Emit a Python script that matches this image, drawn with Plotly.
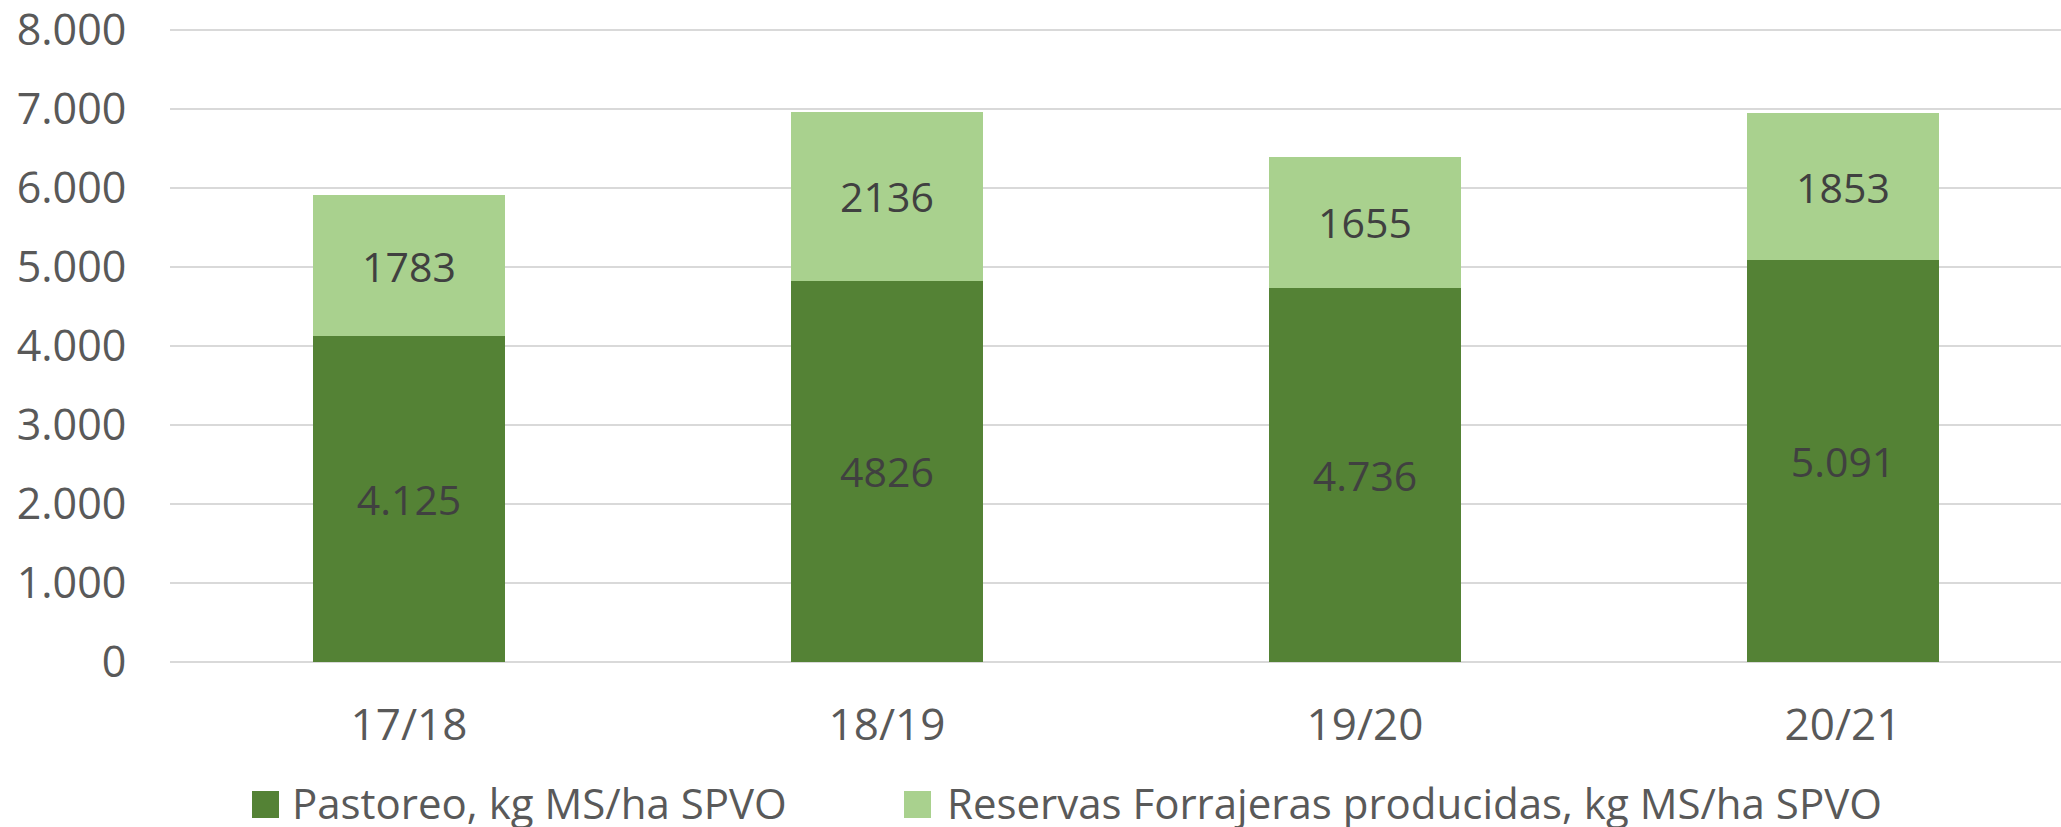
import plotly.graph_objects as go

# ---- data ----
seasons = ["17/18", "18/19", "19/20", "20/21"]
pastoreo = [4125, 4826, 4736, 5091]
pastoreo_labels = ["4.125", "4826", "4.736", "5.091"]
reservas = [1783, 2136, 1655, 1853]
reservas_labels = ["1783", "2136", "1655", "1853"]
series_names = ["Pastoreo, kg MS/ha SPVO", "Reservas Forrajeras producidas, kg MS/ha SPVO"]
y_ticks = [0, 1000, 2000, 3000, 4000, 5000, 6000, 7000, 8000]

# ---- style ----
DARK = "#548235"
LIGHT = "#a9d18e"
LABEL_COLOR = "#404040"
TICK_COLOR = "#595959"
GRID = "#d9d9d9"
FONT = "Open Sans"
FS_LABEL = 41
FS_TICK = 43
FS_LEGEND = 42

W, H = 2061, 827
L, R, T, B = 170, 0, 22, 165
pw = W - L - R
ph = H - T - B

px_per_unit = 79.0 / 1000.0   # vertical scale of the original
y_top = ph / px_per_unit      # a little headroom above 8.000 so its gridline/label show

xpos = list(range(len(seasons)))

fig = go.Figure()
fig.add_trace(go.Bar(
    x=xpos, y=pastoreo, name=series_names[0], marker=dict(color=DARK, line=dict(width=0)),
    text=pastoreo_labels, textposition="inside", insidetextanchor="middle", textangle=0,
    textfont=dict(family=FONT, size=FS_LABEL, color=LABEL_COLOR), width=0.4, showlegend=False,
    hoverinfo="skip"))
fig.add_trace(go.Bar(
    x=xpos, y=reservas, name=series_names[1], marker=dict(color=LIGHT, line=dict(width=0)),
    text=reservas_labels, textposition="inside", insidetextanchor="middle", textangle=0,
    textfont=dict(family=FONT, size=FS_LABEL, color=LABEL_COLOR), width=0.4, showlegend=False,
    hoverinfo="skip"))

# category spacing is 478px; the plot is cut at the right edge
cat_px = 478.0
x_max = -0.5 + pw / cat_px

fig.update_layout(
    template="none",
    width=W, height=H, barmode="stack",
    margin=dict(l=L, r=R, t=T, b=B, pad=0),
    paper_bgcolor="white", plot_bgcolor="white",
    separators=",.",
    font=dict(family=FONT, size=FS_TICK, color=TICK_COLOR),
    xaxis=dict(range=[-0.5, x_max], tickvals=xpos, ticktext=seasons, showgrid=False,
               zeroline=False, showline=False, ticks="outside", ticklen=24, automargin=False,
               ticklabeloverflow="allow",
               tickcolor="rgba(0,0,0,0)", tickfont=dict(family=FONT, size=44, color=TICK_COLOR)),
    yaxis=dict(range=[0, y_top], tickvals=y_ticks, tickformat=",.0f", showgrid=True,
               gridcolor=GRID, gridwidth=1.5, zeroline=True, zerolinecolor=GRID,
               zerolinewidth=1.5, showline=False, ticks="outside", ticklen=34, automargin=False,
               ticklabeloverflow="allow",
               tickcolor="rgba(0,0,0,0)", tickfont=dict(family=FONT, size=FS_TICK, color=TICK_COLOR)),
    showlegend=False,
)

# ---- manual legend (large square swatches like the original) ----
def px_to_paper_x(px):
    return (px - L) / pw

def py_to_paper_y(py):
    return (H - B - py) / ph

legend_items = [(252, 290, DARK), (904, 945, LIGHT)]
sw = 27
sy0, sy1 = 791, 818
for (sx, tx, col), name in zip(legend_items, series_names):
    fig.add_shape(type="rect", xref="paper", yref="paper",
                  x0=px_to_paper_x(sx), x1=px_to_paper_x(sx + sw),
                  y0=py_to_paper_y(sy1), y1=py_to_paper_y(sy0),
                  fillcolor=col, line=dict(width=0))
    fig.add_annotation(text=name, xref="paper", yref="paper",
                       x=px_to_paper_x(tx), y=py_to_paper_y(802),
                       xanchor="left", yanchor="middle", showarrow=False,
                       font=dict(family=FONT, size=FS_LEGEND, color=TICK_COLOR))

fig.write_html("out.html", config={"displayModeBar": False},
               post_script="document.body.style.margin='0';document.body.style.overflow='hidden';")
